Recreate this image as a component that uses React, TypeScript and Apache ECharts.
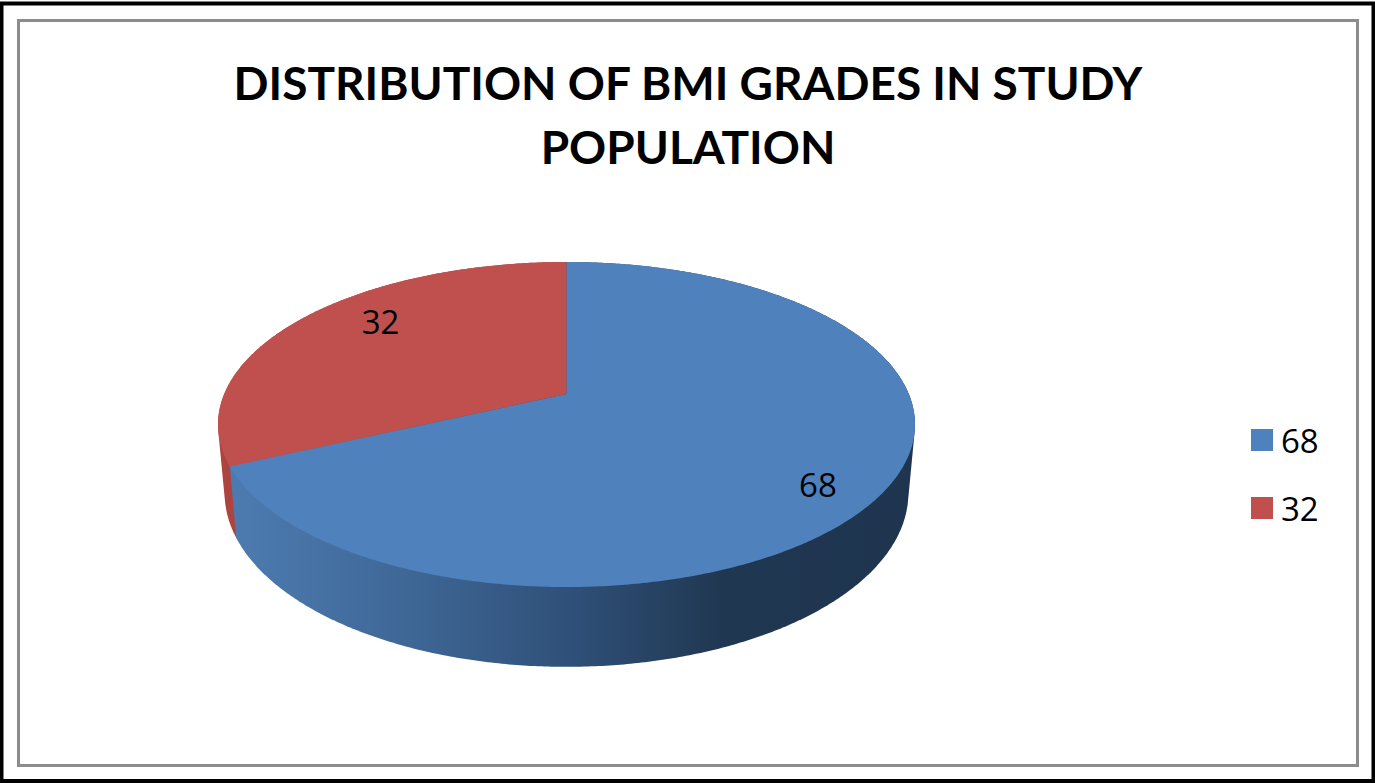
import React, { useEffect, useRef } from "react";
import * as echarts from "echarts";

const chartTitle = "DISTRIBUTION OF BMI GRADES IN STUDY\nPOPULATION";
const sliceNames = ["68", "32"];
const sliceValues = [68, 32];
const sliceColors = ["#4f81bd", "#c0504d"];
const total = sliceValues.reduce((a, b) => a + b, 0);

// Projection of the tilted disc: the near edge is drawn larger than the far edge.
const CX = 566.5;
const RX = 342.3;
const RY = 156.8;
const PERSPECTIVE = 0.1877;
const TOP_FACE = { y0: 394, sx: 1, sy: 1 };
const BASE_FACE = { y0: 460.3, sx: 0.981, sy: 1.07 };
const STEP = 0.5;

type Face = { y0: number; sx: number; sy: number };

const project = (deg: number, r: number, face: Face): number[] => {
  const a = (deg * Math.PI) / 180;
  const u = Math.sin(a) * r;
  const v = -Math.cos(a) * r;
  const w = 1 - PERSPECTIVE * v;
  return [CX + (RX * face.sx * u) / w, face.y0 + (RY * face.sy * v) / w];
};

const arc = (from: number, to: number, face: Face): number[][] => {
  const pts: number[][] = [];
  for (let d = from; d < to; d += STEP) pts.push(project(d, 1, face));
  pts.push(project(to, 1, face));
  return pts;
};

// Outline of the extruded wall; whatever it covers on top is hidden by the top faces.
const convexHull = (points: number[][]): number[][] => {
  const sorted = [...points].sort((a, b) => a[0] - b[0] || a[1] - b[1]);
  const cross = (o: number[], a: number[], b: number[]) =>
    (a[0] - o[0]) * (b[1] - o[1]) - (a[1] - o[1]) * (b[0] - o[0]);
  const half = (list: number[][]) => {
    const out: number[][] = [];
    for (const p of list) {
      while (out.length >= 2 && cross(out[out.length - 2], out[out.length - 1], p) <= 0) out.pop();
      out.push(p);
    }
    out.pop();
    return out;
  };
  return [...half(sorted), ...half([...sorted].reverse())];
};

const sideFills: any[] = [
  new echarts.graphic.LinearGradient(0, 0, 1, 0, [
    { offset: 0, color: "#4d7bb1" },
    { offset: 0.25, color: "#3f6897" },
    { offset: 0.5, color: "#2f5078" },
    { offset: 0.72, color: "#203751" },
    { offset: 1, color: "#1e344f" },
  ]),
  "#ae443f",
];

// Label anchors: fraction of the radius, then a nudge in pixels.
const labelRadius = 0.8;
const labelNudge = [
  [0, 17],
  [28, -10],
];

const renderSlice = (index: number) => (_params: any, api: any) => {
  const value = api.value(0);
  const before = sliceValues.slice(0, index).reduce((a, b) => a + b, 0);
  const start = (before / total) * 360;
  const end = ((before + value) / total) * 360;
  const top = arc(start, end, TOP_FACE);
  const base = arc(start, end, BASE_FACE);
  const anchor = project((start + end) / 2, labelRadius, TOP_FACE);
  return {
    type: "group",
    children: [
      {
        type: "polygon",
        // Earlier slices sit in front of later ones along the shared wall seam.
        z2: sliceValues.length - index,
        shape: { points: convexHull([...top, ...base]) },
        style: { fill: sideFills[index] },
      },
      {
        type: "polygon",
        z2: sliceValues.length + 1,
        shape: { points: [[CX, TOP_FACE.y0], ...top] },
        style: { fill: sliceColors[index] },
      },
      {
        type: "text",
        z2: sliceValues.length + 2,
        x: anchor[0] + labelNudge[index][0],
        y: anchor[1] + labelNudge[index][1],
        style: {
          text: String(value),
          fill: "#000000",
          font: '33px "Open Sans"',
          align: "center",
          verticalAlign: "middle",
        },
      },
    ],
  };
};

export default function App() {
  const ref = useRef<HTMLDivElement>(null);

  useEffect(() => {
    const chart = echarts.init(ref.current!, null, { renderer: "svg" });
    chart.setOption({
      animation: false,
      backgroundColor: "#ffffff",
      color: sliceColors,
      title: {
        text: chartTitle,
        left: 683,
        top: 45,
        textAlign: "center",
        textStyle: {
          fontFamily: "Lato",
          fontWeight: "bold",
          fontSize: 46,
          lineHeight: 64,
          color: "#000000",
        },
      },
      legend: {
        orient: "vertical",
        left: 1246,
        top: 413,
        itemWidth: 22,
        itemHeight: 22,
        itemGap: 24,
        icon: "rect",
        data: sliceNames,
        textStyle: {
          fontFamily: "Open Sans",
          fontSize: 33,
          lineHeight: 44,
          color: "#000000",
          padding: [0, 0, 0, 3],
        },
      },
      graphic: [
        {
          type: "rect",
          silent: true,
          shape: { x: 1.5, y: 3.5, width: 1372, height: 777.5 },
          style: { fill: "none", stroke: "#000000", lineWidth: 4 },
        },
        {
          type: "rect",
          silent: true,
          shape: { x: 18.5, y: 20.5, width: 1339, height: 745 },
          style: { fill: "none", stroke: "#8c8c8c", lineWidth: 3 },
        },
      ],
      series: sliceNames.map((name, i) => ({
        type: "custom",
        name,
        coordinateSystem: "none",
        itemStyle: { color: sliceColors[i] },
        renderItem: renderSlice(i),
        data: [[sliceValues[i]]],
      })),
    });
    return () => chart.dispose();
  }, []);

  return (
    <div
      ref={ref}
      style={{ position: "fixed", left: 0, top: 0, width: 1375, height: 783 }}
    />
  );
}
